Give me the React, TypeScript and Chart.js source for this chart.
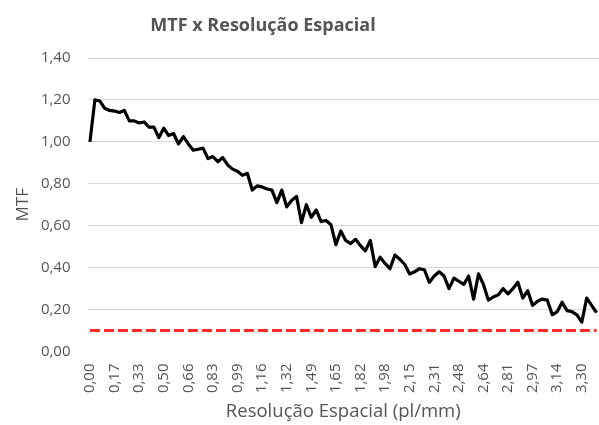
import React, { useEffect, useRef } from "react";
import { Chart, registerables } from "chart.js";

Chart.register(...registerables);

// MTF values, one per spatial-resolution sample (step ≈ 0,033 pl/mm)
const mtfValues: number[] = [
  1.0, 1.2, 1.195, 1.16, 1.15, 1.147, 1.14, 1.15, 1.1, 1.1,
  1.09, 1.095, 1.07, 1.07, 1.02, 1.065, 1.03, 1.04, 0.99, 1.025,
  0.99, 0.96, 0.965, 0.97, 0.92, 0.93, 0.905, 0.925, 0.89, 0.87,
  0.86, 0.84, 0.85, 0.77, 0.79, 0.785, 0.775, 0.77, 0.71, 0.77,
  0.69, 0.72, 0.74, 0.615, 0.7, 0.64, 0.675, 0.62, 0.625, 0.605,
  0.51, 0.575, 0.53, 0.515, 0.535, 0.505, 0.48, 0.53, 0.405, 0.45,
  0.42, 0.395, 0.46, 0.44, 0.415, 0.37, 0.38, 0.395, 0.39, 0.33,
  0.36, 0.38, 0.36, 0.3, 0.35, 0.335, 0.32, 0.36, 0.25, 0.37,
  0.32, 0.245, 0.26, 0.27, 0.3, 0.275, 0.3, 0.33, 0.255, 0.29,
  0.22, 0.24, 0.25, 0.245, 0.175, 0.19, 0.235, 0.195, 0.19, 0.175,
  0.14, 0.255, 0.22, 0.185,
];

// reference threshold (red dashed line)
const thresholdValue = 0.1;

// x tick labels shown every 5th sample
const xTickLabels: string[] = [
  "0,00", "0,17", "0,33", "0,50", "0,66", "0,83", "0,99", "1,16", "1,32", "1,49",
  "1,65", "1,82", "1,98", "2,15", "2,31", "2,48", "2,64", "2,81", "2,97", "3,14", "3,30",
];
const labelEvery = 5;

const yMin = 0;
const yMax = 1.4;
const yStep = 0.2;

const chartTitle = "MTF x Resolução Espacial";
const xAxisTitle = "Resolução Espacial (pl/mm)";
const yAxisTitle = "MTF";

const FONT = '"Open Sans", sans-serif';
const TEXT = "#555555";

export default function App() {
  const ref = useRef<HTMLCanvasElement | null>(null);

  useEffect(() => {
    if (!ref.current) return;
    const categories = mtfValues.map((_, i) => i);
    const threshold = mtfValues.map(() => thresholdValue);

    const titlePlugin = {
      id: "customTitle",
      afterDraw(chart: any) {
        const ctx = chart.ctx;
        ctx.save();
        ctx.font = `bold 18px ${FONT}`;
        ctx.fillStyle = TEXT;
        ctx.textAlign = "center";
        ctx.textBaseline = "alphabetic";
        ctx.fillText(chartTitle, 263, 31);
        ctx.restore();
      },
    };

    const chart = new Chart(ref.current, {
      type: "line",
      data: {
        labels: categories,
        datasets: [
          {
            label: "Limite",
            data: threshold,
            borderColor: "#ff2a2a",
            borderWidth: 3,
            borderDash: [10, 4],
            borderCapStyle: "butt",
            pointRadius: 0,
            fill: false,
          },
          {
            label: "MTF",
            data: mtfValues,
            borderColor: "#000000",
            borderWidth: 3.2,
            borderJoinStyle: "round",
            pointRadius: 0,
            tension: 0,
            fill: false,
          },
        ],
      },
      options: {
        responsive: false,
        animation: false,
        layout: { padding: { top: 58, left: 9, right: 0, bottom: 0 } },
        plugins: {
          legend: { display: false },
          title: { display: false },
          tooltip: { enabled: false },
        },
        scales: {
          x: {
            type: "category",
            offset: true,
            afterFit: (s: any) => {
              s.height = 73.5;
              s.paddingLeft = 0;
              s.paddingRight = 0;
            },
            grid: { display: false, drawTicks: false },
            border: { display: false },
            ticks: {
              autoSkip: false,
              minRotation: 90,
              maxRotation: 90,
              padding: 12,
              color: TEXT,
              font: { family: FONT, size: 15 },
              callback: (_v: any, index: number) =>
                index % labelEvery === 0 ? xTickLabels[index / labelEvery] ?? "" : "",
            },
            title: {
              display: true,
              text: xAxisTitle,
              color: TEXT,
              font: { family: FONT, size: 18.5 },
              padding: { top: 6, bottom: 2 },
            },
          },
          y: {
            min: yMin,
            max: yMax,
            afterFit: (s: any) => {
              s.width = 78.5;
            },
            grid: {
              drawTicks: false,
              color: (c: any) => (c.tick && c.tick.value === 0 ? "rgba(0,0,0,0)" : "#d9d9d9"),
              lineWidth: 1,
            },
            border: { display: false },
            ticks: {
              stepSize: yStep,
              padding: 17,
              color: TEXT,
              font: { family: FONT, size: 15 },
              callback: (v: any) => Number(v).toFixed(2).replace(".", ","),
            },
            title: {
              display: true,
              text: yAxisTitle,
              color: TEXT,
              font: { family: FONT, size: 17 },
              padding: { top: 4, bottom: 7 },
            },
          },
        },
      },
      plugins: [titlePlugin],
    });
    return () => chart.destroy();
  }, []);

  return (
    <div style={{ position: "absolute", left: 0, top: 0, width: 599, height: 425, background: "#fff" }}>
      <canvas ref={ref} width={599} height={425} style={{ display: "block" }} />
    </div>
  );
}
